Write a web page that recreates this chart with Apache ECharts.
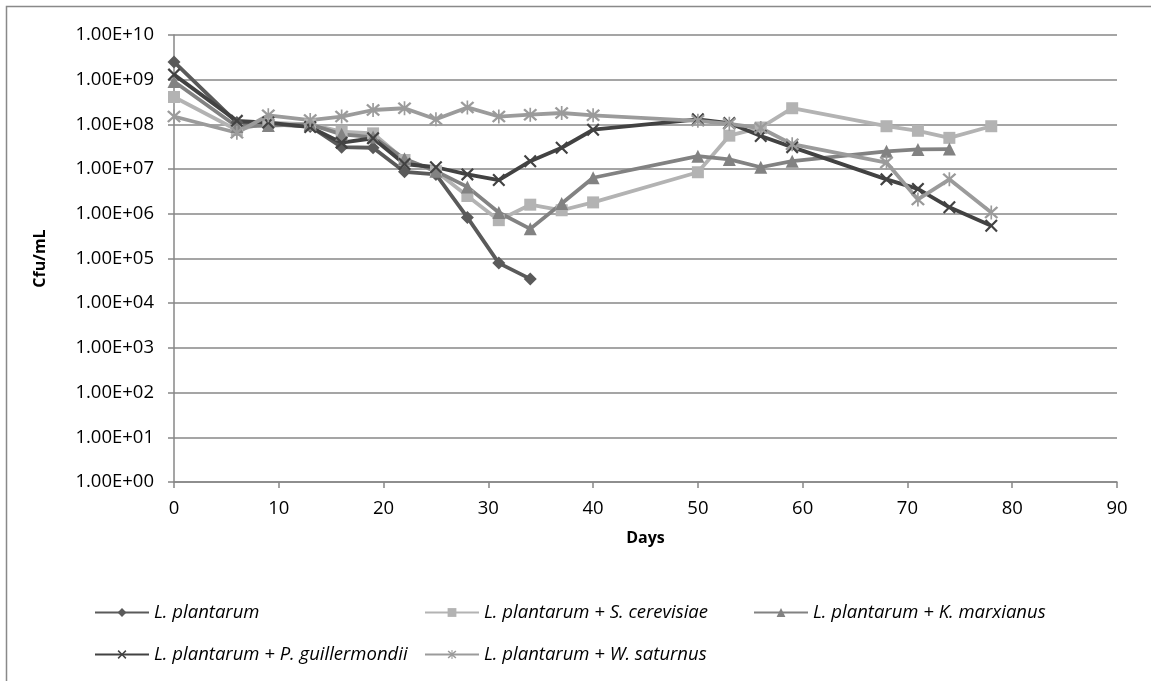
<!DOCTYPE html>
<html>
<head>
<meta charset="utf-8">
<title>Cfu/mL vs Days</title>
<script src="https://cdn.jsdelivr.net/npm/echarts@6/dist/echarts.min.js"></script>
<style>
html, body { margin: 0; padding: 0; background: #fff; }
#chart { width: 1151px; height: 681px; }
</style>
</head>
<body>
<div id="chart"></div>
<script>
// sampling days
var daysLP = [0, 6, 9, 13, 16, 19, 22, 25, 28, 31, 34];
var daysLong = [0, 6, 9, 13, 16, 19, 22, 25, 28, 31, 34, 37, 40, 50, 53, 56, 59, 68, 71, 74, 78];
var daysKM = [0, 6, 9, 13, 16, 19, 22, 25, 28, 31, 34, 37, 40, 50, 53, 56, 59, 68, 71, 74];

// Cfu/mL
var lPlantarum = [2.5e9, 1.1e8, 1.0e8, 9.0e7, 3.1e7, 3.0e7, 8.7e6, 7.6e6, 8.3e5, 7.9e4, 3.5e4];
var sCerevisiae = [4.1e8, 7.5e7, 1.1e8, 1.0e8, 6.9e7, 6.3e7, 1.6e7, 9.0e6, 2.5e6, 7.2e5, 1.6e6,
  1.2e6, 1.8e6, 8.5e6, 5.6e7, 8.5e7, 2.3e8, 9.1e7, 7.2e7, 5.0e7, 9.1e7];
var kMarxianus = [9.1e8, 9.0e7, 9.4e7, 1.0e8, 6.0e7, 5.2e7, 1.7e7, 9.0e6, 4.0e6, 1.07e6, 4.6e5,
  1.7e6, 6.4e6, 1.95e7, 1.65e7, 1.1e7, 1.5e7, 2.5e7, 2.75e7, 2.8e7];
var pGuillermondii = [1.3e9, 1.2e8, 1.1e8, 8.7e7, 3.9e7, 4.9e7, 1.3e7, 1.1e7, 7.6e6, 5.7e6, 1.5e7,
  3.0e7, 7.6e7, 1.3e8, 1.07e8, 5.5e7, 3.1e7, 5.9e6, 3.6e6, 1.4e6, 5.4e5];
var wSaturnus = [1.5e8, 6.5e7, 1.6e8, 1.25e8, 1.5e8, 2.1e8, 2.3e8, 1.3e8, 2.4e8, 1.5e8, 1.65e8,
  1.8e8, 1.6e8, 1.2e8, 1.03e8, 8.3e7, 3.6e7, 1.4e7, 2.1e6, 5.9e6, 1.07e6];

var names = [
  'L. plantarum',
  'L. plantarum + S. cerevisiae',
  'L. plantarum + K. marxianus',
  'L. plantarum + P. guillermondii',
  'L. plantarum + W. saturnus'
];

var xPath = 'path://M0,1.2L1.2,0L5,3.8L8.8,0L10,1.2L6.2,5L10,8.8L8.8,10L5,6.2L1.2,10L0,8.8L3.8,5Z';
var starPath = 'path://M0,1.2L1.2,0L5,3.8L8.8,0L10,1.2L6.2,5L10,8.8L8.8,10L5,6.2L1.2,10L0,8.8L3.8,5Z' +
  'M4.4,-0.6L5.6,-0.6L5.6,10.6L4.4,10.6Z';

function pairs(days, vals) {
  return days.map(function (d, i) { return [d, vals[i]]; });
}

function makeSeries(name, days, vals, color, symbol, size) {
  return {
    name: name,
    type: 'line',
    data: pairs(days, vals),
    symbol: symbol,
    symbolSize: size,
    showAllSymbol: true,
    color: color,
    lineStyle: { width: 3.8, color: color },
    itemStyle: { color: color },
    emphasis: { disabled: true }
  };
}

var chart = echarts.init(document.getElementById('chart'));

var font = '"Open Sans", "Liberation Sans", sans-serif';
var legendBase = {
  itemWidth: 54,
  itemHeight: 11,
  selectedMode: false,
  textStyle: { fontFamily: font, fontSize: 18.5, fontStyle: 'italic', color: '#000' }
};
function legendAt(name, left, top) {
  return Object.assign({}, legendBase, { data: [name], left: left, top: top });
}

chart.setOption({
  animation: false,
  backgroundColor: '#fff',
  graphic: [{
    type: 'rect',
    shape: { x: 6.5, y: 6.5, width: 1200, height: 700 },
    style: { fill: 'none', stroke: '#898989', lineWidth: 1.5 },
    silent: true
  }],
  grid: { left: 174, right: 34, top: 35, bottom: 199, containLabel: false },
  legend: [
    legendAt(names[0], 89, 598),
    legendAt(names[1], 419, 598),
    legendAt(names[2], 748, 598),
    legendAt(names[3], 89, 640),
    legendAt(names[4], 419, 640)
  ],
  xAxis: {
    type: 'value',
    min: 0,
    max: 90,
    interval: 10,
    name: 'Days',
    nameLocation: 'middle',
    nameGap: 48,
    nameTextStyle: { fontFamily: font, fontSize: 16, fontWeight: 'bold', color: '#000' },
    axisLine: { lineStyle: { color: '#878787', width: 1.5 } },
    axisTick: { length: 6, lineStyle: { color: '#878787', width: 1.5 } },
    axisLabel: { margin: 17, fontFamily: font, fontSize: 18.5, color: '#000' },
    splitLine: { show: false }
  },
  yAxis: {
    type: 'log',
    logBase: 10,
    min: 1,
    max: 1e10,
    interval: 1,
    name: 'Cfu/mL',
    nameLocation: 'middle',
    nameGap: 126,
    nameTextStyle: { fontFamily: font, fontSize: 16, fontWeight: 'bold', color: '#000' },
    axisLine: { show: true, lineStyle: { color: '#878787', width: 1.5 } },
    axisTick: { show: true, length: 6, lineStyle: { color: '#878787', width: 1.5 } },
    axisLabel: {
      margin: 20,
      fontFamily: font,
      fontSize: 18.5,
      color: '#000',
      formatter: function (v) {
        var e = Math.round(Math.log10(v));
        return '1.00E' + (e < 0 ? '-' : '+') + String(Math.abs(e)).padStart(2, '0');
      }
    },
    splitLine: { show: true, lineStyle: { color: '#878787', width: 1.5 } },
    minorTick: { show: false },
    minorSplitLine: { show: false }
  },
  series: [
    makeSeries(names[0], daysLP, lPlantarum, '#5a5a5a', 'diamond', 13),
    makeSeries(names[1], daysLong, sCerevisiae, '#b3b3b3', 'rect', 12),
    makeSeries(names[2], daysKM, kMarxianus, '#828282', 'triangle', 13),
    makeSeries(names[3], daysLong, pGuillermondii, '#424242', xPath, 13),
    makeSeries(names[4], daysLong, wSaturnus, '#9b9b9b', starPath, 14)
  ]
});
</script>
</body>
</html>
